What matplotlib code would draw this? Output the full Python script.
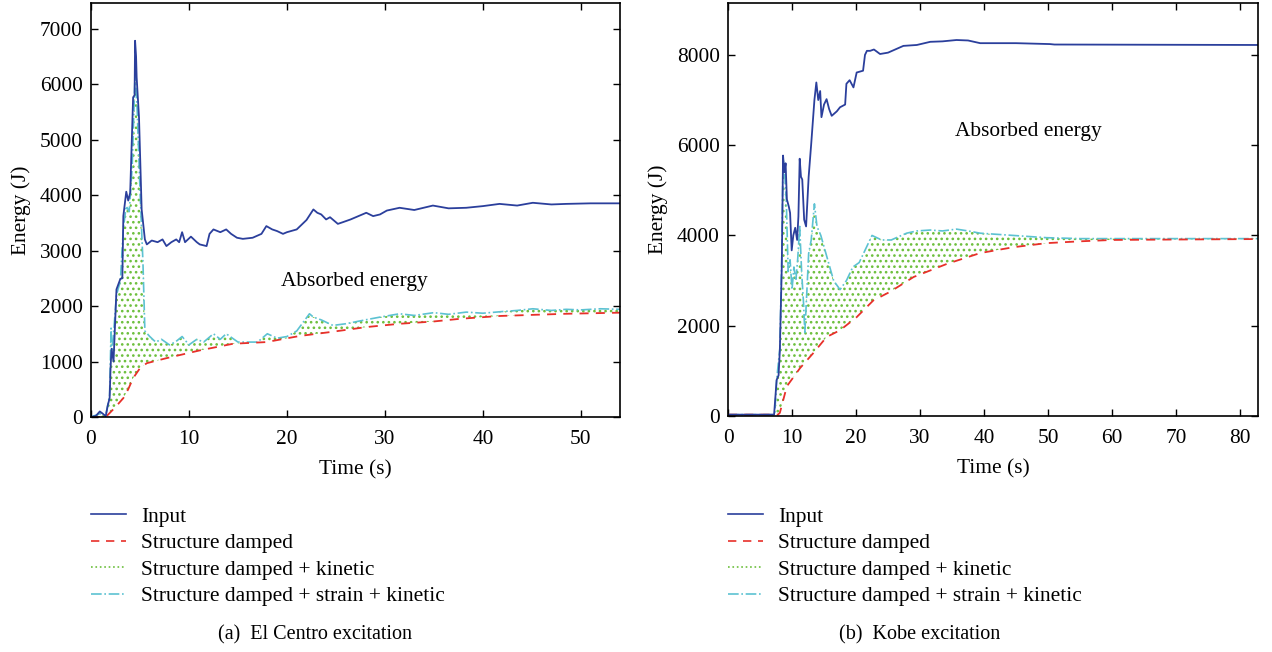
import numpy as np
import matplotlib
matplotlib.use("Agg")
import matplotlib.pyplot as plt
from matplotlib.lines import Line2D

plt.rcParams['font.family'] = ['Liberation Serif', 'DejaVu Serif']
plt.rcParams['hatch.linewidth'] = 1.1

# ---- El Centro (a) ----
tA_in = [0, 0.5, 0.9, 1.2, 1.5, 1.7, 1.9, 2.0, 2.1, 2.3, 2.6, 3.0, 3.2, 3.3, 3.6, 3.8, 4.0, 4.3, 4.45,
         4.5, 4.6, 4.66, 4.9, 5.17, 5.5, 5.7, 6.2, 6.8, 7.3, 7.7, 8.2, 8.7, 9.0, 9.3, 9.6, 10.2, 10.8, 11.1,
         11.8, 12.1, 12.5, 13.2, 13.8, 14.3, 14.9, 15.5, 16.5, 17.4, 17.9, 18.5, 19.0, 19.6, 20.0, 21.0, 22.0,
         22.7, 23.1, 23.5, 24.0, 24.4, 25.2, 25.7, 26.5, 27.3, 28.1, 28.8, 29.5, 30.2, 31.5, 33.0, 34.9, 36.5,
         38.3, 40.0, 41.7, 43.5, 45.1, 47.0, 48.5, 51.0, 54.0]
eA_in = [0, 20, 100, 60, 10, 200, 340, 900, 1230, 1000, 2300, 2490, 2500, 3620, 4060, 3900, 4040, 5760, 5800,
         6780, 6500, 6120, 5400, 3740, 3200, 3110, 3180, 3150, 3200, 3080, 3150, 3200, 3150, 3330, 3150, 3250,
         3150, 3110, 3080, 3300, 3380, 3330, 3380, 3300, 3230, 3210, 3230, 3300, 3440, 3380, 3350, 3300, 3330,
         3380, 3550, 3740, 3680, 3650, 3560, 3600, 3480, 3510, 3560, 3620, 3680, 3620, 3650, 3720, 3770, 3730,
         3810, 3760, 3770, 3800, 3840, 3810, 3860, 3830, 3840, 3850, 3850]

tA_d = [0, 1.5, 1.9, 2.5, 3.3, 3.8, 4.3, 5.0, 5.7, 7.7, 11.1, 14.5, 17.9, 21.3, 24.4, 28.1, 31.5,
        34.9, 37.7, 41.7, 45.0, 48.5, 54.0]
eA_d = [0, 0, 70, 180, 340, 500, 700, 880, 970, 1060, 1200, 1320, 1350, 1460, 1530, 1620, 1680,
        1720, 1770, 1820, 1840, 1860, 1880]

tA_sk = [0, 0.9, 1.5, 1.7, 1.9, 2.05, 2.1, 2.3, 2.6, 3.0, 3.3, 3.6, 3.9, 4.2, 4.5, 4.7, 5.0, 5.3, 5.5,
         6.0, 6.6, 7.2, 8.0, 8.6, 9.3, 10.0, 10.8, 11.5, 12.5, 13.2, 13.8, 15.0, 17.0, 18.0, 19.0, 20.0,
         21.0, 22.3, 22.7, 23.5, 24.7, 26.0, 28.0, 29.5, 31.5, 33.0, 35.0, 36.5, 38.3, 40.0, 42.0, 43.5,
         45.1, 47.0, 48.5, 50.0, 52.0, 54.0]
eA_sk = [0, 60, 30, 200, 400, 1600, 1100, 1500, 2200, 2450, 3400, 3800, 3700, 4500, 6200, 5600, 4100, 2800, 1550,
         1450, 1350, 1400, 1300, 1350, 1450, 1300, 1400, 1350, 1500, 1400, 1500, 1350, 1350, 1500, 1420, 1450,
         1550, 1860, 1800, 1750, 1650, 1680, 1750, 1800, 1860, 1830, 1880, 1850, 1890, 1870, 1900, 1920,
         1950, 1920, 1940, 1930, 1950, 1940]

# ---- Kobe (b) ----
tB_in = [0, 7.2, 7.6, 7.9, 8.1, 8.4, 8.6, 8.8, 9.0, 9.2, 9.5, 9.7, 9.95, 10.2, 10.5, 10.8, 11.0, 11.2, 11.4,
         11.6, 11.9, 12.2, 12.6, 13.0, 13.5, 13.8, 14.1, 14.4, 14.6, 15.0, 15.4, 15.8, 16.2, 17.0, 17.5, 18.3,
         18.5, 19.0, 19.6, 20.1, 21.1, 21.4, 21.7, 22.2, 22.8, 23.75, 25.0, 27.4, 29.5, 31.6, 33.5, 35.7,
         37.5, 39.4, 45.0, 50.3, 51.0, 82.8]
eB_in = [30, 30, 800, 900, 1460, 3300, 5770, 5400, 5600, 4800, 4640, 4500, 3670, 4000, 4170, 3900, 4420, 5700, 5300,
         5240, 4350, 4200, 5300, 6030, 7000, 7390, 7000, 7200, 6620, 6900, 7020, 6800, 6650, 6750, 6840, 6900,
         7360, 7440, 7280, 7610, 7650, 8000, 8090, 8090, 8120, 8020, 8050, 8200, 8220, 8290, 8300, 8330,
         8320, 8260, 8260, 8240, 8230, 8220]

tB_d = [0, 7.8, 8.1, 9.2, 11.25, 13.3, 15.4, 17.5, 20.1, 22.7, 25.3, 29.0, 34.2, 39.4, 44.6, 49.8,
        55.0, 60.0, 70.0, 82.8]
eB_d = [30, 30, 70, 660, 1060, 1390, 1750, 1900, 2190, 2560, 2750, 3080, 3370, 3610, 3740, 3830,
        3870, 3900, 3910, 3920]

tB_sk = [0, 7.3, 7.6, 8.1, 8.4, 8.6, 8.8, 9.1, 9.4, 9.7, 10.0, 10.3, 10.6, 10.9, 11.2, 11.5, 11.8, 12.0,
         12.3, 12.6, 13.0, 13.5, 13.9, 14.5, 15.5, 16.5, 17.5, 18.5, 19.5, 20.5, 21.5, 22.5, 24.0, 25.5,
         27.9, 29.5, 31.6, 33.5, 35.7, 37.5, 39.4, 44.6, 49.8, 55.0, 82.8]
eB_sk = [30, 30, 800, 1500, 3500, 5700, 5500, 4800, 3200, 3460, 2800, 3300, 3000, 3500, 4200, 3200, 2500, 1850,
         2700, 3600, 3900, 4700, 4200, 4000, 3500, 3000, 2800, 3000, 3300, 3400, 3700, 4000, 3900, 3900,
         4050, 4100, 4120, 4100, 4140, 4100, 4050, 4000, 3950, 3930, 3930]

labels = ['Input', 'Structure damped', 'Structure damped + kinetic', 'Structure damped + strain + kinetic']
c_in = '#2b3f9c'
c_d = '#e8302a'
c_k = '#6cbf3c'
c_sk = '#5cc2d2'
FS = 15.4

fig = plt.figure(figsize=(12.72, 6.52), dpi=100)
axA = fig.add_axes([91/1272, 1-417/652, 529/1272, 414/652])
axB = fig.add_axes([728/1272, 1-416/652, 530/1272, 413/652])


def draw(ax, t_in, e_in, t_d, e_d, t_sk, e_sk):
    # kinetic part oscillates fast between damped and total -> shown as dotted hatch
    ax.fill(np.concatenate([t_d, t_sk[::-1]]), np.concatenate([e_d, e_sk[::-1]]),
            facecolor='none', edgecolor=c_k, hatch='...', linewidth=0)
    ax.plot(t_sk, e_sk, color=c_sk, lw=1.2, ls='-.')
    ax.plot(t_d, e_d, color=c_d, lw=1.3, ls=(0, (5, 4)))
    ax.plot(t_in, e_in, color=c_in, lw=1.3)
    ax.tick_params(direction='in', top=True, right=True, length=5, width=1.0, labelsize=FS)
    ax.tick_params(axis='x', pad=9.5)
    ax.tick_params(axis='y', pad=6)
    for s in ax.spines.values():
        s.set_linewidth(1.2)
    ax.set_xlabel('Time (s)', fontsize=FS, labelpad=8)
    ax.set_ylabel('Energy (J)', fontsize=FS, labelpad=6)


draw(axA, np.array(tA_in), eA_in, np.array(tA_d), np.array(eA_d), np.array(tA_sk), np.array(eA_sk))
axA.set_xlim(0, 54)
axA.set_ylim(0, 7460)
axA.set_xticks(range(0, 51, 10))
axA.set_yticks(range(0, 7001, 1000))
axA.text(26.9, 2450, 'Absorbed energy', fontsize=FS, ha='center', va='center')

draw(axB, np.array(tB_in), eB_in, np.array(tB_d), np.array(eB_d), np.array(tB_sk), np.array(eB_sk))
axB.set_xlim(0, 82.8)
axB.set_ylim(0, 9150)
axB.set_xticks(range(0, 81, 10))
axB.set_yticks(range(0, 8001, 2000))
axB.text(46.9, 6300, 'Absorbed energy', fontsize=FS, ha='center', va='center')

handles = [Line2D([], [], color=c_in, lw=1.2),
           Line2D([], [], color=c_d, lw=1.2, ls=(0, (5, 4))),
           Line2D([], [], color=c_k, lw=1.2, ls=':'),
           Line2D([], [], color=c_sk, lw=1.2, ls='-.')]
for x0 in (91/1272, 728/1272):
    fig.legend(handles, labels, loc='upper left', bbox_to_anchor=(x0, 1-507/652), frameon=False,
               fontsize=FS, handlelength=1.65, handletextpad=0.7, labelspacing=0.3,
               borderpad=0, borderaxespad=0)

fig.text(315/1272, 1-635/652, '(a)  El Centro excitation', fontsize=14.5, ha='center', va='center')
fig.text(920/1272, 1-635/652, '(b)  Kobe excitation', fontsize=14.5, ha='center', va='center')

fig.savefig('out.png', dpi=100)
